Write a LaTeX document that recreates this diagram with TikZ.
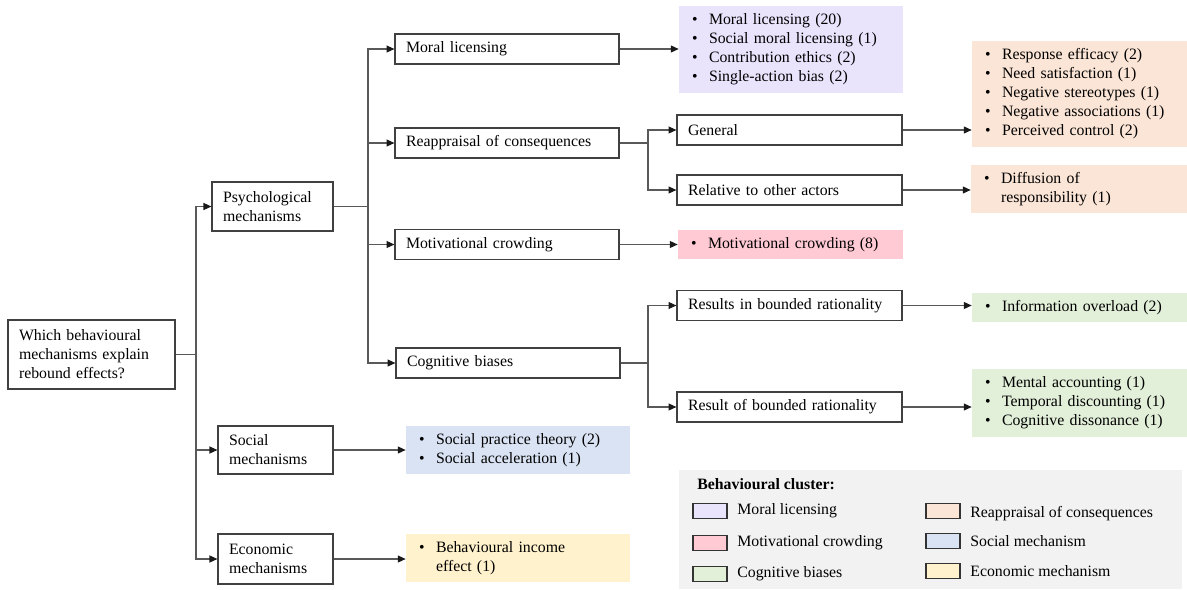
\documentclass[tikz,border=0pt]{standalone}
\usepackage{fontspec}
\setmainfont{Liberation Serif}
\usepackage{tikz}
\usetikzlibrary{arrows.meta}
\newcommand{\fsz}{\fontsize{9}{10.8}\selectfont}
\newcommand{\bul}{\makebox[0.34cm][l]{\textbullet}}
\newcommand{\ind}{\hspace*{0.34cm}}
\definecolor{cpurple}{HTML}{E9E3FC}
\definecolor{cpink}{HTML}{FFCAD4}
\definecolor{cgreen}{HTML}{E2EFD9}
\definecolor{corange}{HTML}{FBE5D6}
\definecolor{cblue}{HTML}{DAE3F3}
\definecolor{cyellow}{HTML}{FFF2CC}
\definecolor{cgrey}{HTML}{F2F2F2}
\tikzset{
    box/.style={draw=black!75, line width=0.7pt, fill=white, inner xsep=0.22cm, inner ysep=0pt, align=left, font=\fsz},
    lst/.style={fill=#1, inner xsep=0.26cm, inner ysep=0pt, align=left, font=\fsz},
    ln/.style={draw=black!65, line width=0.6pt},
    arr/.style={ln, -{Triangle[length=4.5pt,width=4pt,color=black!90]}},
    swatch/.style={draw=black!80, line width=0.7pt, fill=#1, minimum width=0.68cm, minimum height=0.3cm, inner sep=0pt},
    leglabel/.style={anchor=west, inner sep=0pt, font=\fsz}
}

\begin{document}
\begin{tikzpicture}[x=0.02cm,y=-0.02cm]
    \useasboundingbox (0,0) rectangle (1187,589);
    % question and main mechanisms
    \node[box, text width=2.9cm, minimum height=1.38cm] (Q) at (91.5,354.5) {Which behavioural\\mechanisms explain\\rebound effects?};
    \node[box, text width=1.98cm, minimum height=0.98cm] (PM) at (272.5,206.5) {Psychological\\mechanisms};
    \node[box, text width=1.86cm, minimum height=0.96cm] (SM) at (275.5,450) {Social\\mechanisms};
    \node[box, text width=1.86cm, minimum height=1.0cm] (EM) at (275.5,559) {Economic\\mechanisms};
    % psychological mechanisms
    \node[box, text width=4.04cm, minimum height=0.6cm] (ML) at (507,49) {Moral licensing};
    \node[box, text width=4.04cm, minimum height=0.6cm] (RC) at (507,143) {Reappraisal of consequences};
    \node[box, text width=4.04cm, minimum height=0.6cm] (MC) at (507,244.5) {Motivational crowding};
    \node[box, text width=4.04cm, minimum height=0.6cm] (CB) at (508,363) {Cognitive biases};
    \node[box, text width=4.06cm, minimum height=0.6cm] (GE) at (789.5,130) {General};
    \node[box, text width=4.06cm, minimum height=0.6cm] (RA) at (789.5,190) {Relative to other actors};
    \node[box, text width=4.06cm, minimum height=0.6cm] (RI) at (789.5,305.5) {Results in bounded rationality};
    \node[box, text width=4.06cm, minimum height=0.6cm] (RO) at (789.5,407) {Result of bounded rationality};
    % clusters
    \node[lst=cpurple, text width=3.96cm, minimum height=1.74cm] (L1) at (791,49.5) {\bul Moral licensing (20)\\\bul Social moral licensing (1)\\\bul Contribution ethics (2)\\\bul Single-action bias (2)};
    \node[lst=corange, text width=3.78cm, minimum height=2.12cm] (L2) at (1079.5,94) {\bul Response efficacy (2)\\\bul Need satisfaction (1)\\\bul Negative stereotypes (1)\\\bul Negative associations (1)\\\bul Perceived control (2)};
    \node[lst=corange, text width=3.8cm, minimum height=0.96cm] (L3) at (1079,189) {\bul Diffusion of\\\ind responsibility (1)};
    \node[lst=cpink, text width=3.98cm, minimum height=0.58cm] (L4) at (790.5,244.5) {\bul Motivational crowding (8)};
    \node[lst=cgreen, text width=3.78cm, minimum height=0.58cm] (L5) at (1079.5,307.5) {\bul Information overload (2)};
    \node[lst=cgreen, text width=3.78cm, minimum height=1.36cm] (L6) at (1079.5,403) {\bul Mental accounting (1)\\\bul Temporal discounting (1)\\\bul Cognitive dissonance (1)};
    \node[lst=cblue, text width=3.96cm, minimum height=0.96cm] (L7) at (518,450) {\bul Social practice theory (2)\\\bul Social acceleration (1)};
    \node[lst=cyellow, text width=3.96cm, minimum height=0.96cm] (L8) at (518,558) {\bul Behavioural income\\\ind effect (1)};
    % connectors
    \coordinate (J0) at (196,354.5);
    \coordinate (J1) at (368,206.5);
    \coordinate (J2) at (648,143);
    \coordinate (J3) at (648,363);
    \draw[ln] (Q.east) -- (J0);
    \draw[arr] (J0) |- (PM.west);
    \draw[arr] (J0) |- (SM.west);
    \draw[arr] (J0) |- (EM.west);
    \draw[ln] (PM.east) -- (J1);
    \draw[arr] (J1) |- (ML.west);
    \draw[arr] (J1) |- (RC.west);
    \draw[arr] (J1) |- (MC.west);
    \draw[arr] (J1) |- (CB.west);
    \draw[ln] (RC.east) -- (J2);
    \draw[arr] (J2) |- (GE.west);
    \draw[arr] (J2) |- (RA.west);
    \draw[ln] (CB.east) -- (J3);
    \draw[arr] (J3) |- (RI.west);
    \draw[arr] (J3) |- (RO.west);
    \draw[arr] (ML.east) -- (L1.west |- ML.east);
    \draw[arr] (GE.east) -- (L2.west |- GE.east);
    \draw[arr] (RA.east) -- (L3.west |- RA.east);
    \draw[arr] (MC.east) -- (L4.west |- MC.east);
    \draw[arr] (RI.east) -- (L5.west |- RI.east);
    \draw[arr] (RO.east) -- (L6.west |- RO.east);
    \draw[arr] (SM.east) -- (L7.west |- SM.east);
    \draw[arr] (EM.east) -- (L8.west |- EM.east);
    % legend
    \node[fill=cgrey, minimum width=10.06cm, minimum height=2.38cm, inner sep=0pt] (LEG) at (930.5,529.5) {};
    \node[leglabel, font=\fsz\bfseries] (LT) at (697,484) {Behavioural cluster:};
    \node[swatch=cpurple] (K1) at (710,511) {};
    \node[swatch=cpink] (K2) at (710,543) {};
    \node[swatch=cgreen] (K3) at (710,574) {};
    \node[swatch=corange] (K4) at (943,511) {};
    \node[swatch=cblue] (K5) at (943,541) {};
    \node[swatch=cyellow] (K6) at (943,571) {};
    \node[leglabel] (T1) at (737,511) {Moral licensing};
    \node[leglabel] (T2) at (737,543) {Motivational crowding};
    \node[leglabel] (T3) at (737,574) {Cognitive biases};
    \node[leglabel] (T4) at (970,514) {Reappraisal of consequences};
    \node[leglabel] (T5) at (970,541) {Social mechanism};
    \node[leglabel] (T6) at (970,571) {Economic mechanism};
\end{tikzpicture}
\end{document}
